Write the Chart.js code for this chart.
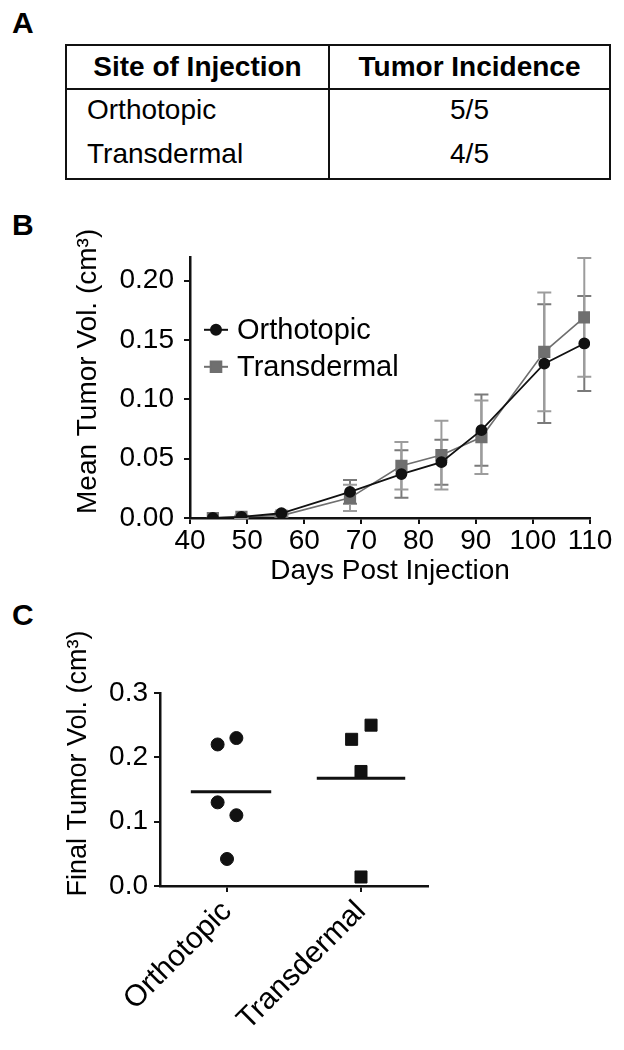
<!DOCTYPE html>
<html><head><meta charset="utf-8">
<script src="https://cdn.jsdelivr.net/npm/chart.js@4.4.1/dist/chart.umd.min.js"></script>
<style>
body{margin:0;background:#fff;width:624px;height:1050px;position:relative;overflow:hidden;font-family:"Liberation Sans",Arial,Helvetica,sans-serif;color:#000}
.lbl{position:absolute;left:12px;font-weight:bold;font-size:30px;line-height:30px}
table{position:absolute;left:65px;top:44px;width:544px;border-collapse:collapse;border:2px solid #111;font-size:28px;table-layout:fixed}
th{font-weight:bold;height:42px;border-bottom:2px solid #111;text-align:center;padding:0;vertical-align:middle}
td{padding:0;vertical-align:middle}
td.c1{padding-left:20px}
td.c2{text-align:center}
.v{border-left:2px solid #111}
canvas{position:absolute;left:0}
</style></head>
<body>
<div class="lbl" style="top:8px">A</div>
<div class="lbl" style="top:210px">B</div>
<div class="lbl" style="top:600px">C</div>
<table>
<colgroup><col style="width:263px"><col style="width:281px"></colgroup>
<tr><th>Site of Injection</th><th class="v">Tumor Incidence</th></tr>
<tr style="height:40px"><td class="c1">Orthotopic</td><td class="c2 v">5/5</td></tr>
<tr style="height:50px"><td class="c1">Transdermal</td><td class="c2 v">4/5</td></tr>
</table>
<canvas id="cb" width="624" height="360" style="top:230px"></canvas>
<canvas id="cc" width="624" height="430" style="top:620px"></canvas>
<script>
// ---------- Data: panel B ----------
const days = [44, 49, 56, 68, 77, 84, 91, 102, 109];
const orthoMean = [0, 0.001, 0.004, 0.022, 0.037, 0.047, 0.074, 0.130, 0.147];
const orthoSem  = [0, 0.001, 0.001, 0.010, 0.020, 0.019, 0.030, 0.050, 0.040];
const transMean = [0, 0.001, 0.002, 0.017, 0.044, 0.053, 0.068, 0.140, 0.169];
const transSem  = [0, 0.001, 0.001, 0.011, 0.020, 0.029, 0.031, 0.050, 0.050];
const xTicksB = [40, 50, 60, 70, 80, 90, 100, 110];
const yTicksB = [0, 0.05, 0.10, 0.15, 0.20];
const seriesNames = ['Orthotopic', 'Transdermal'];
// ---------- Data: panel C ----------
const groups = ['Orthotopic', 'Transdermal'];
const orthoFinal = [0.22, 0.23, 0.13, 0.11, 0.042];
const transFinal = [0.25, 0.228, 0.178, 0.014];
const orthoJitter = [-0.07, 0.07, -0.07, 0.07, 0];
const transJitter = [0.075, -0.07, 0, 0];
const yTicksC = [0, 0.1, 0.2, 0.3];

const FONT = '"Liberation Sans", Arial, Helvetica, sans-serif';
Chart.defaults.font.family = FONT;
Chart.defaults.color = '#000';
const INK = '#111';
const GREY = '#6f6f6f';

const axisStyle = {
  border: {color: INK, width: 2.5},
  grid: {drawOnChartArea: false, color: INK, lineWidth: 2, tickLength: 6}
};

const errorBars = {
  id: 'errorBars',
  beforeDatasetsDraw(chart) {
    const {ctx, scales: {x, y}} = chart;
    chart.data.datasets.forEach(ds => {
      if (!ds.sem) return;
      ctx.save();
      ctx.strokeStyle = ds.errColor;
      ctx.lineWidth = 2;
      ds.data.forEach((p, j) => {
        const e = ds.sem[j];
        if (!e) return;
        const px = x.getPixelForValue(p.x);
        const t = y.getPixelForValue(p.y + e);
        const b = y.getPixelForValue(p.y - e);
        ctx.beginPath();
        ctx.moveTo(px, t); ctx.lineTo(px, b);
        ctx.moveTo(px - 7, t); ctx.lineTo(px + 7, t);
        ctx.moveTo(px - 7, b); ctx.lineTo(px + 7, b);
        ctx.stroke();
      });
      ctx.restore();
    });
  }
};

// y-axis title drawn rotated, slightly above the axis centre as in the figure
const yTitle = {
  id: 'yTitle',
  afterDraw(chart, args, opts) {
    const {ctx, chartArea, scales: {y}} = chart;
    const t = y.options.title;
    ctx.save();
    ctx.font = t.font.size + 'px ' + FONT;
    ctx.fillStyle = '#000';
    ctx.textAlign = 'center';
    ctx.textBaseline = 'middle';
    ctx.translate(opts.x, (chartArea.top + chartArea.bottom) / 2 + opts.shift);
    ctx.rotate(-Math.PI / 2);
    ctx.fillText(t.text, 0, 0);
    ctx.restore();
  }
};

const insideLegend = {
  id: 'insideLegend',
  afterDraw(chart) {
    const {ctx, chartArea} = chart;
    const x0 = chartArea.left + 14, y0 = chartArea.top + 73, gap = 37;
    chart.data.datasets.forEach((ds, i) => {
      const yy = y0 + i * gap;
      ctx.save();
      ctx.strokeStyle = ds.borderColor;
      ctx.lineWidth = 2;
      ctx.beginPath(); ctx.moveTo(x0, yy); ctx.lineTo(x0 + 24, yy); ctx.stroke();
      ctx.fillStyle = ds.pointBackgroundColor;
      ctx.strokeStyle = ds.pointBackgroundColor;
      Chart.helpers.drawPoint(ctx, {pointStyle: ds.pointStyle, radius: ds.pointRadius, borderWidth: 1}, x0 + 12, yy);
      ctx.fillStyle = '#000';
      ctx.font = '29px ' + FONT;
      ctx.textBaseline = 'middle';
      ctx.fillText(seriesNames[i], x0 + 33, yy + 1);
      ctx.restore();
    });
  }
};

new Chart(document.getElementById('cb'), {
  type: 'scatter',
  data: {
    datasets: [
      {label: seriesNames[0], data: days.map((d, i) => ({x: d, y: orthoMean[i]})), sem: orthoSem,
       errColor: '#7a7a7a', showLine: true, borderColor: INK, borderWidth: 1.8,
       pointStyle: 'circle', pointRadius: 5, pointBackgroundColor: INK, pointBorderColor: INK},
      {label: seriesNames[1], data: days.map((d, i) => ({x: d, y: transMean[i]})), sem: transSem,
       errColor: '#9c9c9c', showLine: true, borderColor: GREY, borderWidth: 1.6,
       pointStyle: 'rect', pointRadius: 7.5, pointBackgroundColor: GREY, pointBorderColor: GREY}
    ]
  },
  options: {
    responsive: false, animation: false, events: [],
    layout: {padding: {left: 68, right: 34, top: 15, bottom: 0}},
    plugins: {legend: {display: false}, tooltip: {enabled: false}, yTitle: {x: 88, shift: -16}},
    scales: {
      x: Object.assign({
        type: 'linear', min: 40, max: 110,
        afterBuildTicks: s => { s.ticks = xTicksB.map(v => ({value: v})); },
        afterFit: s => { s.height = 72; },
        ticks: {font: {size: 28}, padding: 0, maxRotation: 0, autoSkip: false, color: '#000'},
        title: {display: true, text: 'Days Post Injection', font: {size: 28}, color: '#000', padding: {top: 0, bottom: 2}}
      }, axisStyle),
      y: Object.assign({
        type: 'linear', min: 0, max: 0.22,
        afterBuildTicks: s => { s.ticks = yTicksB.map(v => ({value: v})); },
        afterFit: s => { s.width = 122; },
        ticks: {font: {size: 28}, padding: 10, color: '#000', callback: v => Number(v).toFixed(2)},
        title: {display: false, text: 'Mean Tumor Vol. (cm³)', font: {size: 28}}
      }, axisStyle)
    }
  },
  plugins: [errorBars, insideLegend, yTitle]
});

const mean = a => a.reduce((s, v) => s + v, 0) / a.length;
const meanHalf = 0.3;

new Chart(document.getElementById('cc'), {
  type: 'scatter',
  data: {
    datasets: [
      {data: orthoFinal.map((v, i) => ({x: 1 + orthoJitter[i], y: v})),
       pointStyle: 'circle', pointRadius: 6.5, pointBackgroundColor: INK, pointBorderColor: INK},
      {data: transFinal.map((v, i) => ({x: 2 + transJitter[i], y: v})),
       pointStyle: 'rect', pointRadius: 8.5, pointBackgroundColor: INK, pointBorderColor: INK},
      {data: [{x: 1.03 - meanHalf, y: mean(orthoFinal)}, {x: 1.03 + meanHalf, y: mean(orthoFinal)}],
       showLine: true, borderColor: INK, borderWidth: 3, pointRadius: 0},
      {data: [{x: 2 - meanHalf - 0.03, y: mean(transFinal)}, {x: 2 + meanHalf + 0.03, y: mean(transFinal)}],
       showLine: true, borderColor: INK, borderWidth: 3, pointRadius: 0}
    ]
  },
  options: {
    responsive: false, animation: false, events: [],
    layout: {padding: {left: 58, right: 196, top: 73, bottom: 0}},
    plugins: {legend: {display: false}, tooltip: {enabled: false}, yTitle: {x: 79, shift: -26}},
    scales: {
      x: Object.assign({
        type: 'linear', min: 0.5, max: 2.5,
        afterBuildTicks: s => { s.ticks = groups.map((g, i) => ({value: i + 1})); },
        afterFit: s => { s.height = 164; },
        ticks: {font: {size: 30}, padding: 2, minRotation: 45, maxRotation: 45, autoSkip: false, color: '#000',
                callback: v => groups[Math.round(v) - 1]}
      }, axisStyle),
      y: Object.assign({
        type: 'linear', min: 0, max: 0.3,
        afterBuildTicks: s => { s.ticks = yTicksC.map(v => ({value: v})); },
        afterFit: s => { s.width = 102; },
        ticks: {font: {size: 28}, padding: 6, color: '#000', callback: v => Number(v).toFixed(1)},
        title: {display: false, text: 'Final Tumor Vol. (cm³)', font: {size: 27}}
      }, axisStyle)
    }
  },
  plugins: [yTitle]
});
</script>
</body></html>
